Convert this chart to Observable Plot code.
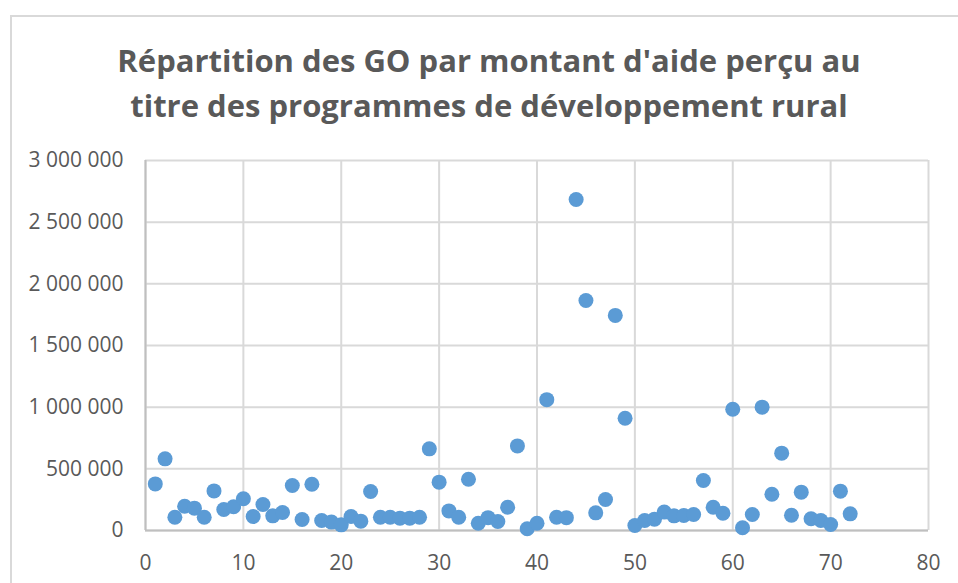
<!DOCTYPE html>
<html>
<head>
<meta charset="utf-8">
<script src="https://cdn.jsdelivr.net/npm/d3@7"></script>
<script src="https://cdn.jsdelivr.net/npm/@observablehq/plot@0.6"></script>
<style>
  html, body { margin: 0; padding: 0; background: #fff; width: 958px; height: 583px; overflow: hidden; }
  #box { position: absolute; left: 10px; top: 15px; width: 960px; height: 600px; border: 2px solid #d9d9d9; box-sizing: border-box; }
  #title { position: absolute; left: 10px; width: 958px; top: 38px; text-align: center; font-family: "Open Sans", sans-serif; font-weight: bold; font-size: 31px; line-height: 45px; color: #595959; }
  #chart { position: absolute; left: 0; top: 140px; }
</style>
</head>
<body>
<div id="box"></div>
<div id="title">Répartition des GO par montant d'aide perçu au<br>titre des programmes de développement rural</div>
<div id="chart"></div>
<script>
const goIds = d3.range(1, 73);
const aidAmounts = [
  378000, 581000, 108000, 197000, 181000, 108000, 321000, 170000, 192000, 257000,
  113000, 211000, 119000, 146000, 365000, 89000, 375000, 81000, 68000, 46000,
  113000, 76000, 316000, 108000, 108000, 100000, 100000, 108000, 662000, 392000,
  159000, 108000, 416000, 59000, 104000, 73000, 189000, 686000, 14000, 59000,
  1061000, 108000, 104000, 2684000, 1865000, 143000, 251000, 1744000, 910000, 41000,
  81000, 92000, 149000, 119000, 122000, 130000, 405000, 189000, 140000, 983000,
  22000, 130000, 1000000, 294000, 627000, 124000, 311000, 95000, 81000, 49000,
  319000, 135000
];
const xTicks = [0, 10, 20, 30, 40, 50, 60, 70, 80];
const yTicks = [0, 500000, 1000000, 1500000, 2000000, 2500000, 3000000];

const data = goIds.map((id, i) => ({id, amount: aidAmounts[i]}));
const fr = d3.formatLocale({decimal: ",", thousands: " ", grouping: [3], currency: ["", " €"]});
const fmt = fr.format(",d");

const plot = Plot.plot({
  width: 958,
  height: 443,
  marginLeft: 145,
  marginRight: 30,
  marginTop: 20,
  marginBottom: 53,
  style: {fontFamily: "Open Sans, sans-serif", fontSize: "21px", color: "#595959", background: "transparent"},
  x: {domain: [0, 80], ticks: xTicks, tickSize: 0, label: null},
  y: {domain: [0, 3000000], ticks: yTicks, tickSize: 0, tickFormat: fmt, label: null},
  marks: [
    Plot.gridX(xTicks, {stroke: "#d9d9d9", strokeOpacity: 1, strokeWidth: 2}),
    Plot.gridY(yTicks, {stroke: "#d9d9d9", strokeOpacity: 1, strokeWidth: 2}),
    Plot.ruleX([0], {stroke: "#bfbfbf", strokeWidth: 2}),
    Plot.ruleY([0], {stroke: "#bfbfbf", strokeWidth: 2}),
    Plot.axisX({ticks: xTicks, tickSize: 0, tickPadding: 25, fontSize: 21}),
    Plot.axisY({ticks: yTicks, tickSize: 0, tickPadding: 22, tickFormat: fmt, fontSize: 21}),
    Plot.dot(data, {x: "id", y: "amount", r: 7.5, fill: "#5b9bd5", stroke: "none"})
  ]
});
document.getElementById("chart").appendChild(plot);
</script>
</body>
</html>
